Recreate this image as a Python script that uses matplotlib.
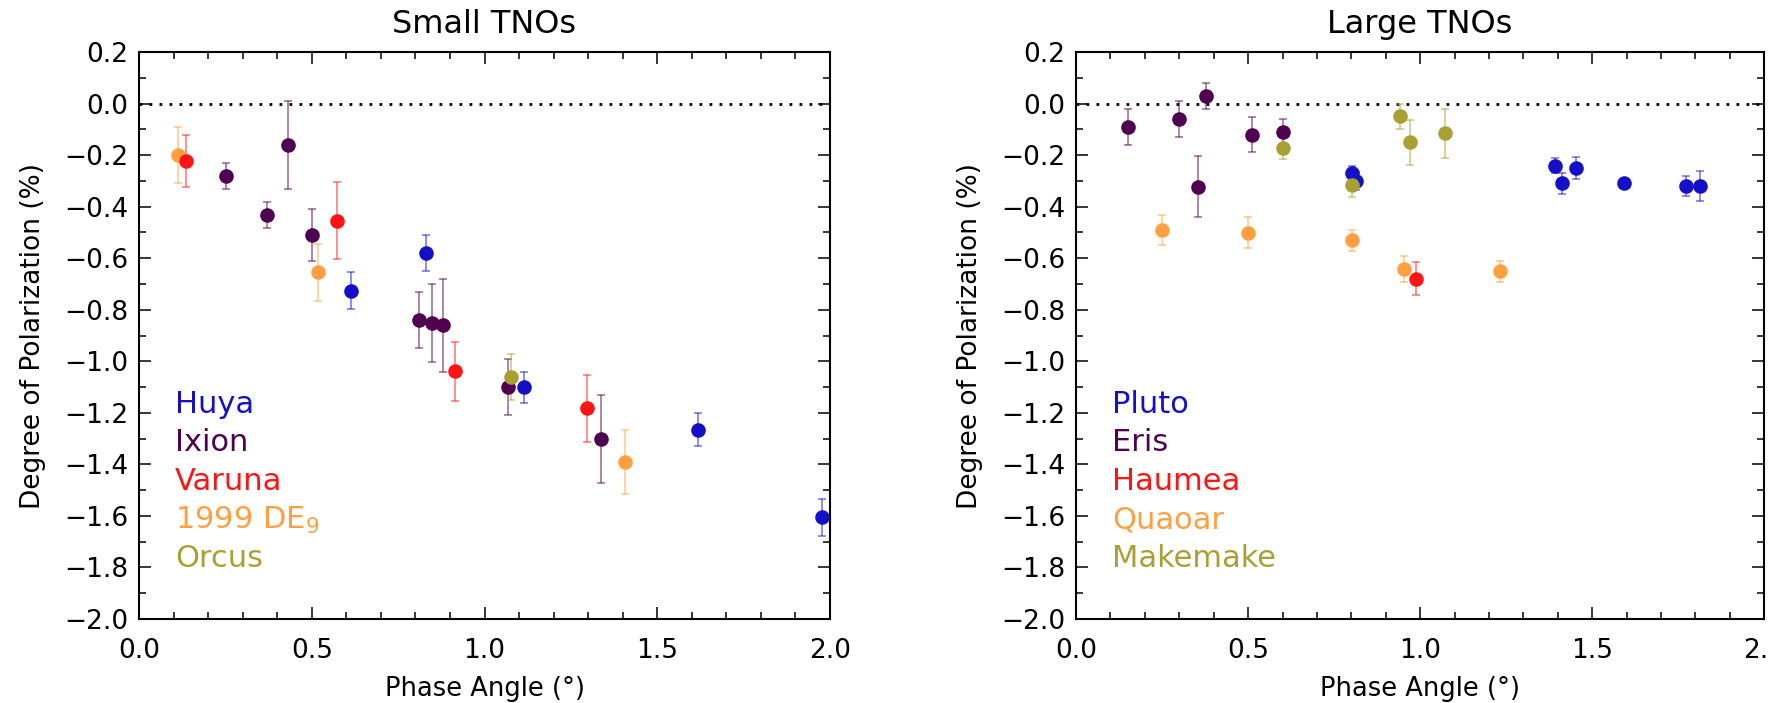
import matplotlib
matplotlib.use('Agg')
import matplotlib.pyplot as plt
from matplotlib.ticker import MultipleLocator

plt.rcParams['font.family'] = ['DejaVu Sans']

# Small TNOs (phase angle in deg, polarization in %, 1-sigma error)
huya_x = [0.614, 0.831, 1.113, 1.618, 1.976]
huya_y = [-0.726, -0.581, -1.100, -1.265, -1.605]
huya_e = [0.073, 0.070, 0.060, 0.063, 0.072]

ixion_x = [0.252, 0.371, 0.432, 0.501, 0.809, 0.848, 0.879, 1.067, 1.337]
ixion_y = [-0.280, -0.431, -0.161, -0.510, -0.840, -0.851, -0.860, -1.100, -1.301]
ixion_e = [0.05, 0.05, 0.17, 0.10, 0.11, 0.15, 0.18, 0.11, 0.17]

varuna_x = [0.137, 0.572, 0.914, 1.296]
varuna_y = [-0.222, -0.455, -1.039, -1.182]
varuna_e = [0.10, 0.15, 0.115, 0.13]

de9_x = [0.112, 0.519, 1.408]
de9_y = [-0.200, -0.655, -1.391]
de9_e = [0.11, 0.11, 0.125]

orcus_x = [1.077]
orcus_y = [-1.062]
orcus_e = [0.09]

# Large TNOs
pluto_x = [0.801, 0.814, 1.392, 1.413, 1.452, 1.593, 1.773, 1.813]
pluto_y = [-0.271, -0.300, -0.241, -0.310, -0.250, -0.310, -0.320, -0.320]
pluto_e = [0.03, 0.035, 0.03, 0.04, 0.042, 0.01, 0.04, 0.06]

eris_x = [0.152, 0.300, 0.353, 0.378, 0.510, 0.600]
eris_y = [-0.092, -0.061, -0.322, 0.030, -0.121, -0.111]
eris_e = [0.07, 0.07, 0.12, 0.05, 0.068, 0.05]

haumea_x = [0.989]
haumea_y = [-0.679]
haumea_e = [0.063]

quaoar_x = [0.250, 0.500, 0.801, 0.952, 1.231]
quaoar_y = [-0.491, -0.501, -0.531, -0.641, -0.651]
quaoar_e = [0.058, 0.06, 0.04, 0.05, 0.04]

makemake_x = [0.600, 0.801, 0.940, 0.970, 1.072]
makemake_y = [-0.172, -0.316, -0.050, -0.151, -0.115]
makemake_e = [0.044, 0.046, 0.05, 0.086, 0.095]

blue = '#1410c8'
purple = '#500050'
red = '#ff1414'
orange = '#ffa040'
olive = '#a8a032'

small = [('Huya', huya_x, huya_y, huya_e, blue),
         ('Ixion', ixion_x, ixion_y, ixion_e, purple),
         ('Varuna', varuna_x, varuna_y, varuna_e, red),
         ('1999 DE$_9$', de9_x, de9_y, de9_e, orange),
         ('Orcus', orcus_x, orcus_y, orcus_e, olive)]
large = [('Pluto', pluto_x, pluto_y, pluto_e, blue),
         ('Eris', eris_x, eris_y, eris_e, purple),
         ('Haumea', haumea_x, haumea_y, haumea_e, red),
         ('Quaoar', quaoar_x, quaoar_y, quaoar_e, orange),
         ('Makemake', makemake_x, makemake_y, makemake_e, olive)]

# drawing order (later ones on top)
draw_order = [3, 2, 0, 1, 4]

fig = plt.figure(figsize=(17.69, 7.03), dpi=100)
ax1 = fig.add_axes([0.0786, 0.1195, 0.3906, 0.8065])
ax2 = fig.add_axes([0.6083, 0.1195, 0.3890, 0.8065])

for ax, groups, title in [(ax1, small, 'Small TNOs'), (ax2, large, 'Large TNOs')]:
    ax.axhline(0.0, color='black', linestyle=(0, (1, 2.6)), linewidth=2.0, zorder=1)
    for k in draw_order:
        name, x, y, e, col = groups[k]
        ax.errorbar(x, y, yerr=e, fmt='none', ecolor=col, alpha=0.6,
                    elinewidth=1.1, capsize=3, capthick=1.1, zorder=2)
    for k in draw_order:
        name, x, y, e, col = groups[k]
        ax.plot(x, y, 'o', color=col, markersize=10.5, markeredgewidth=0, zorder=3)
    # colour-coded names instead of a legend box
    for i, (name, x, y, e, col) in enumerate(groups):
        ax.text(0.104, -1.2 - 0.15 * i, name, color=col, fontsize=22,
                ha='left', va='baseline')

    ax.set_xlim(0.0, 2.0)
    ax.set_ylim(-2.0, 0.2)
    ax.xaxis.set_major_locator(MultipleLocator(0.5))
    ax.xaxis.set_minor_locator(MultipleLocator(0.1))
    ax.yaxis.set_major_locator(MultipleLocator(0.2))
    ax.yaxis.set_minor_locator(MultipleLocator(0.1))
    ax.xaxis.set_major_formatter(matplotlib.ticker.FormatStrFormatter('%.1f'))
    ax.yaxis.set_major_formatter(matplotlib.ticker.FuncFormatter(
        lambda v, p: ('%.1f' % v).replace('-', '\u2212') if abs(v) > 1e-9 else '0.0'))
    ax.tick_params(which='both', direction='in', top=True, right=True, width=1.1)
    ax.tick_params(which='major', length=8.6, labelsize=19)
    ax.tick_params(which='major', axis='y', pad=8)
    ax.tick_params(which='major', axis='x', pad=14)
    ax.tick_params(which='minor', length=5)
    for s in ax.spines.values():
        s.set_linewidth(1.5)
    ax.set_title(title, fontsize=23, pad=14)
    ax.set_xlabel('Phase Angle (°)', fontsize=18.5, labelpad=8)
    ax.set_ylabel('Degree of Polarization (%)', fontsize=19, labelpad=13)

fig.savefig('out.png', dpi=100)
